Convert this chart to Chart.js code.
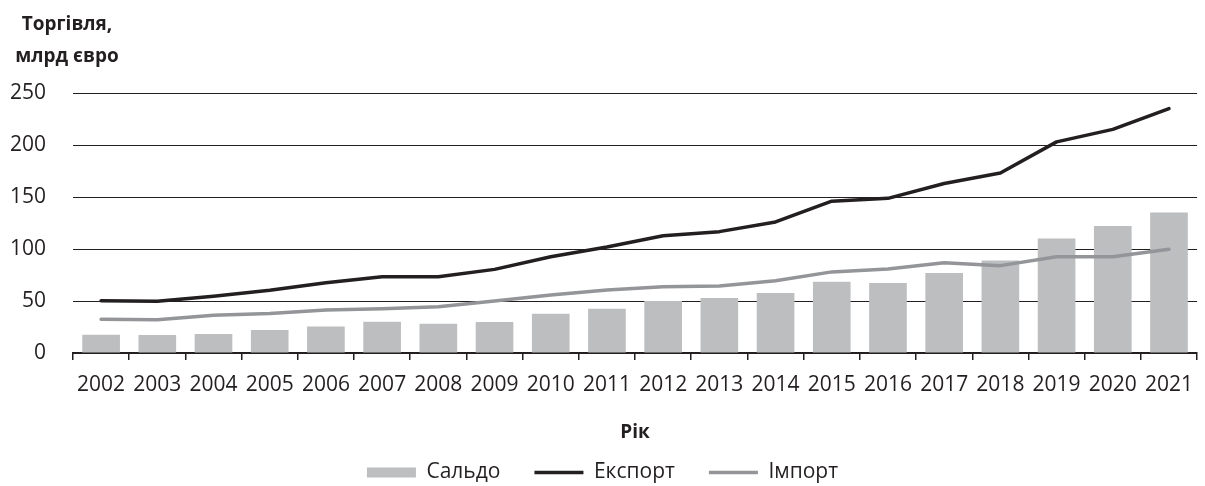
<!DOCTYPE html>
<html lang="uk">
<head>
<meta charset="UTF-8">
<title>Торгівля, млрд євро</title>
<script src="https://cdn.jsdelivr.net/npm/chart.js@4"></script>
<style>
  html, body { margin: 0; padding: 0; background: #fff; }
  #wrap { width: 1205px; height: 486px; position: relative; }
</style>
</head>
<body>
<div id="wrap"><canvas id="chart"></canvas></div>
<script>
// data
const years = ['2002', '2003', '2004', '2005', '2006', '2007', '2008', '2009', '2010', '2011',
               '2012', '2013', '2014', '2015', '2016', '2017', '2018', '2019', '2020', '2021'];
const saldo = [17.6, 17.3, 18.3, 22.1, 25.6, 30, 28.2, 29.8, 37.8, 42.6,
               50, 52.9, 57.7, 68.6, 67.3, 77, 89, 110, 122, 135];
const exportVals = [50.3, 49.7, 54.5, 60.3, 67.6, 73.4, 73.4, 80.4, 92.6, 102,
                    112.8, 116.7, 126, 146, 148.7, 163, 173, 203, 215, 235];
const importVals = [32.4, 32, 36.2, 38, 41.3, 42.6, 44.5, 50, 55.8, 60.6,
                    63.8, 64.4, 69.5, 78, 80.7, 86.8, 84, 92.6, 92.6, 99.7];
const yTicks = [0, 50, 100, 150, 200, 250];
const titleLines = ['Торгівля,', 'млрд євро'];

const FONT = '"Open Sans", sans-serif';
const INK = '#231f20';

// two-line title at top left, centred lines like the original
const titlePlugin = {
    id: 'topTitle',
    afterDraw(chart) {
        const ctx = chart.ctx;
        ctx.save();
        ctx.fillStyle = INK;
        ctx.font = 'bold 19px ' + FONT;
        ctx.textAlign = 'center';
        ctx.textBaseline = 'alphabetic';
        ctx.fillText(titleLines[0], 67, 30);
        ctx.fillText(titleLines[1], 67, 62);
        ctx.restore();
    }
};

new Chart(document.getElementById('chart'), {
    type: 'bar',
    data: {
        labels: years,
        datasets: [
            {
                type: 'bar',
                label: 'Сальдо',
                data: saldo,
                backgroundColor: '#bcbec0',
                borderWidth: 0,
                categoryPercentage: 1,
                barPercentage: 0.67,
                pointStyle: 'rect',
                order: 3
            },
            {
                type: 'line',
                label: 'Експорт',
                data: exportVals,
                borderColor: INK,
                backgroundColor: INK,
                borderWidth: 3.5,
                pointRadius: 0,
                pointStyle: 'line',
                pointBorderColor: INK,
                pointBorderWidth: 3.5,
                tension: 0,
                borderCapStyle: 'round',
                borderJoinStyle: 'round',
                order: 1
            },
            {
                type: 'line',
                label: 'Імпорт',
                data: importVals,
                borderColor: '#939598',
                backgroundColor: '#939598',
                borderWidth: 3.5,
                pointRadius: 0,
                pointStyle: 'line',
                pointBorderColor: '#939598',
                pointBorderWidth: 3.5,
                tension: 0,
                borderCapStyle: 'round',
                borderJoinStyle: 'round',
                order: 2
            }
        ]
    },
    options: {
        responsive: true,
        maintainAspectRatio: false,
        animation: false,
        layout: { padding: { top: 93, left: 0, right: 0, bottom: -7 } },
        plugins: {
            tooltip: { enabled: false },
            legend: {
                position: 'bottom',
                labels: {
                    usePointStyle: true,
                    pointStyleWidth: 49,
                    boxHeight: 10,
                    padding: 34,
                    color: INK,
                    font: { family: FONT, size: 21 },
                    sort: (a, b) => a.datasetIndex - b.datasetIndex
                }
            }
        },
        scales: {
            x: {
                offset: true,
                grid: {
                    offset: true,
                    drawOnChartArea: false,
                    drawTicks: true,
                    tickLength: 7,
                    color: INK,
                    lineWidth: 1.5
                },
                border: { display: true, color: INK, width: 2 },
                ticks: {
                    color: INK,
                    font: { family: FONT, size: 21 },
                    padding: 12,
                    maxRotation: 0,
                    autoSkip: false
                },
                title: {
                    display: true,
                    text: 'Рік',
                    color: INK,
                    font: { family: FONT, size: 19, weight: 'bold' },
                    padding: { top: 12, bottom: -16 }
                }
            },
            y: {
                min: 0,
                max: 250,
                afterFit(scale) { scale.width = 73; },
                afterBuildTicks(scale) { scale.ticks = yTicks.map(v => ({ value: v })); },
                border: { display: false },
                grid: { drawTicks: false, color: INK, lineWidth: 1 },
                ticks: {
                    color: INK,
                    font: { family: FONT, size: 21 },
                    padding: 27
                }
            }
        }
    },
    plugins: [titlePlugin]
});
</script>
</body>
</html>
